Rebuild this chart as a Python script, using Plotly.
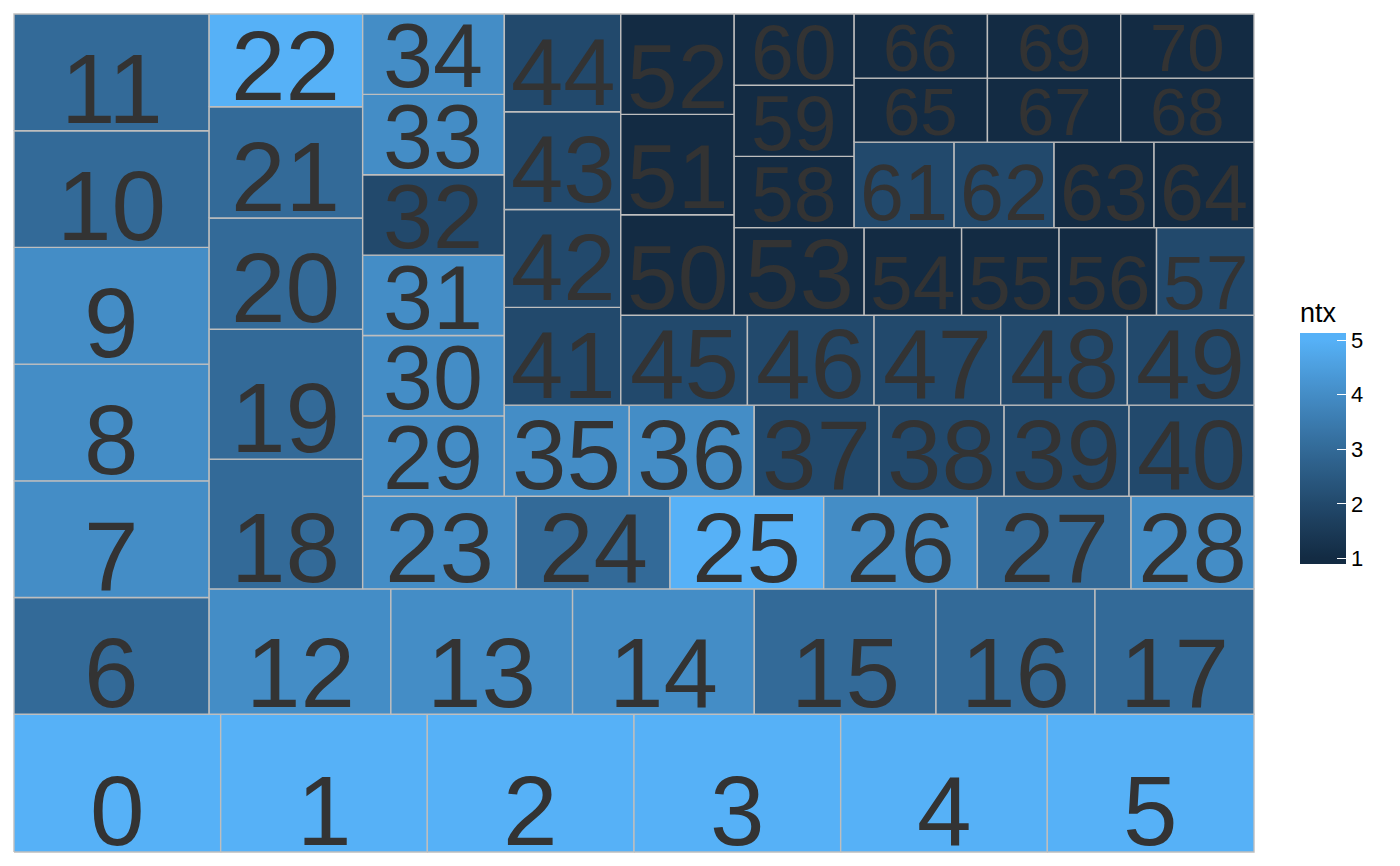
import plotly.graph_objects as go
from plotly.colors import sample_colorscale

# ---------------- data ----------------
labels = ["0", "1", "2", "3", "4", "5", "6", "7", "8", "9",
          "10", "11", "12", "13", "14", "15", "16", "17", "18", "19",
          "20", "21", "22", "23", "24", "25", "26", "27", "28", "29",
          "30", "31", "32", "33", "34", "35", "36", "37", "38", "39",
          "40", "41", "42", "43", "44", "45", "46", "47", "48", "49",
          "50", "51", "52", "53", "54", "55", "56", "57", "58", "59",
          "60", "61", "62", "63", "64", "65", "66", "67", "68", "69", "70"]
area = [10, 10, 10, 10, 10, 10, 8, 8, 8, 8,
        8, 8, 8, 8, 8, 8, 7, 7, 7, 7,
        6, 6, 5, 5, 5, 5, 5, 5, 4, 4,
        4, 4, 4, 4, 4, 4, 4, 4, 4, 4,
        4, 4, 4, 4, 4, 4, 4, 4, 4, 4,
        4, 4, 4, 4, 3, 3, 3, 3, 3, 3,
        3, 3, 3, 3, 3, 3, 3, 3, 3, 3, 3]
ntx = [5, 5, 5, 5, 5, 5, 3, 4, 4, 4,
       3, 3, 4, 4, 4, 3, 3, 3, 3, 3,
       3, 3, 5, 4, 3, 5, 4, 3, 4, 4,
       4, 4, 2, 4, 4, 4, 4, 2, 2, 2,
       2, 2, 2, 2, 2, 2, 2, 2, 2, 2,
       1, 1, 1, 1, 1, 1, 1, 2, 1, 1,
       1, 2, 2, 1, 1, 1, 1, 1, 1, 1, 1]
legend_ticks = [1, 2, 3, 4, 5]

# ---------------- colour scale (ggplot default, Lab interpolation) ----------------
LOW, HIGH = "#132B43", "#56B1F7"


def _hex2rgb(h):
    return [int(h[i:i + 2], 16) for i in (1, 3, 5)]


def _to_lab(h):
    def lin(c):
        c = c / 255
        return c / 12.92 if c <= 0.04045 else ((c + 0.055) / 1.055) ** 2.4
    r, g, b = [lin(c) for c in _hex2rgb(h)]
    X = 0.4124564 * r + 0.3575761 * g + 0.1804375 * b
    Y = 0.2126729 * r + 0.7151522 * g + 0.0721750 * b
    Z = 0.0193339 * r + 0.1191920 * g + 0.9503041 * b
    d = 6 / 29

    def f(t):
        return t ** (1 / 3) if t > d ** 3 else t / (3 * d * d) + 4 / 29
    fx, fy, fz = f(X / 0.95047), f(Y / 1.0), f(Z / 1.08883)
    return 116 * fy - 16, 500 * (fx - fy), 200 * (fy - fz)


def _from_lab(L, a, b):
    d = 6 / 29
    fy = (L + 16) / 116
    fx = fy + a / 500
    fz = fy - b / 200

    def finv(t):
        return t ** 3 if t > d else 3 * d * d * (t - 4 / 29)
    X, Y, Z = 0.95047 * finv(fx), finv(fy), 1.08883 * finv(fz)
    r = 3.2404542 * X - 1.5371385 * Y - 0.4985314 * Z
    g = -0.9692660 * X + 1.8760108 * Y + 0.0415560 * Z
    bb = 0.0556434 * X - 0.2040259 * Y + 1.0572252 * Z

    def enc(c):
        v = 12.92 * c if c <= 0.0031308 else 1.055 * c ** (1 / 2.4) - 0.055
        return int(round(min(1, max(0, v)) * 255))
    return "rgb(%d,%d,%d)" % (enc(r), enc(g), enc(bb))


lab_lo, lab_hi = _to_lab(LOW), _to_lab(HIGH)


def grad(t):
    return _from_lab(*[lo + (hi - lo) * t for lo, hi in zip(lab_lo, lab_hi)])


vmin, vmax = min(ntx), max(ntx)
cmin, cmax = 0.89, 5.128
colorscale = [[0.0, grad(0.0)]]
nstop = 40
for i in range(nstop + 1):
    t = i / nstop
    v = vmin + (vmax - vmin) * t
    colorscale.append([(v - cmin) / (cmax - cmin), grad(t)])
colorscale.append([1.0, grad(1.0)])

# ---------------- squarified layout (treemapify style: bottom-left start, alternating) ----------------
order = sorted(range(len(area)), key=lambda i: -area[i])
total = float(sum(area))
norm = [area[i] / total for i in order]


def worst(row, side):
    s = sum(row)
    t = s / side
    return max(max((a / t) / t, t / (a / t)) for a in row)


rects = {}
x0, y0, w, h = 0.0, 0.0, 1.0, 1.0
horizontal = True
k = 0
while k < len(norm):
    side = w if horizontal else h
    row = [norm[k]]
    j = k + 1
    while j < len(norm) and worst(row + [norm[j]], side) <= worst(row, side):
        row.append(norm[j])
        j += 1
    t = sum(row) / side
    pos = x0 if horizontal else y0
    for n, a in enumerate(row):
        L = a / t
        idx = order[k + n]
        if horizontal:
            rects[idx] = (pos, y0, pos + L, y0 + t)
        else:
            rects[idx] = (x0, pos, x0 + t, pos + L)
        pos += L
    if horizontal:
        y0 += t
        h -= t
    else:
        x0 += t
        w -= t
    horizontal = not horizontal
    k = j

# ---------------- figure ----------------
PW, PH = 1240, 838  # panel size in pixels
ML, MT = 14, 14
fig = go.Figure()
fill_colors = sample_colorscale(colorscale, [(v - cmin) / (cmax - cmin) for v in ntx])

annotations = []
for i in range(len(labels)):
    a0, b0, a1, b1 = rects[i]
    fig.add_trace(go.Scatter(
        x=[a0, a1, a1, a0, a0], y=[b0, b0, b1, b1, b0],
        mode="lines", fill="toself", fillcolor=fill_colors[i],
        line=dict(color="#BEBEBE", width=1.4),
        hoverinfo="skip", showlegend=False))
    wp, hp = (a1 - a0) * PW, (b1 - b0) * PH
    n = len(labels[i])
    s = min(98.0, (hp - 16) / 0.716, (wp - 12) / (n * 0.556))
    annotations.append(dict(
        x=(a0 + a1) / 2, y=b0, xref="x", yref="y", text=labels[i],
        showarrow=False, xanchor="center", yanchor="bottom",
        yshift=6 - 0.212 * s - 1,
        font=dict(family="Liberation Sans, Arial, Helvetica, sans-serif",
                  size=s, color="#333333")))

# colour bar carrier
BAR_TOP, BAR_BOT, TITLE_H = 333, 564, 35
fig.add_trace(go.Scatter(
    x=[(rects[i][0] + rects[i][2]) / 2 for i in range(len(labels))],
    y=[(rects[i][1] + rects[i][3]) / 2 for i in range(len(labels))],
    mode="markers", hoverinfo="skip", showlegend=False,
    marker=dict(size=1, opacity=0, color=ntx, colorscale=colorscale,
                cmin=cmin, cmax=cmax, showscale=True,
                colorbar=dict(
                    title=dict(text="ntx", side="top",
                               font=dict(family="Liberation Sans, Arial, sans-serif",
                                         size=27, color="#000000")),
                    thickness=46, thicknessmode="pixels",
                    len=BAR_BOT - BAR_TOP + TITLE_H, lenmode="pixels",
                    x=(1299 - ML) / PW, xanchor="left",
                    y=(PH + MT - BAR_BOT) / PH, yanchor="bottom",
                    xpad=0, ypad=0, outlinewidth=0,
                    tickmode="array", tickvals=legend_ticks,
                    ticktext=[str(v) for v in legend_ticks],
                    ticks="inside", ticklen=9, tickwidth=1.3, tickcolor="white",
                    tickfont=dict(family="Liberation Sans, Arial, sans-serif",
                                  size=22, color="#000000")))))

ex, ey = 1.0 / PW, 1.0 / PH
fig.update_layout(
    width=1400, height=866,
    margin=dict(l=ML - 1, r=1400 - ML - PW - 1, t=MT - 1, b=866 - MT - PH - 1),
    paper_bgcolor="white", plot_bgcolor="white",
    xaxis=dict(range=[-ex, 1 + ex], visible=False, fixedrange=True),
    yaxis=dict(range=[-ey, 1 + ey], visible=False, fixedrange=True),
    annotations=annotations,
    showlegend=False)

fig.write_html("out.html")
